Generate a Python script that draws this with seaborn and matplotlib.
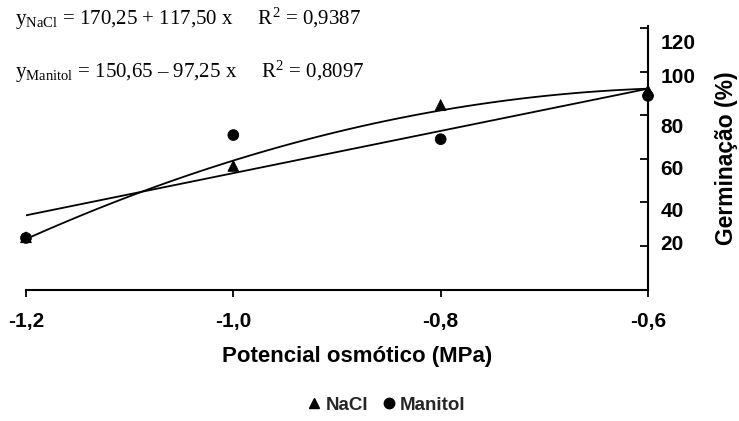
import numpy as np
import pandas as pd
import matplotlib
matplotlib.use("Agg")
import matplotlib.pyplot as plt
import seaborn as sns
from matplotlib.lines import Line2D

# ---- data ----
potencial = [-1.2, -1.0, -0.8, -0.6]
germ_nacl = [24.0, 56.8, 84.8, 91.5]
germ_manitol = [23.7, 71.0, 69.1, 89.0]
series = ["NaCl", "Manitol"]

x_ticks = [-1.2, -1.0, -0.8, -0.6]
x_labels = ["-1,2", "-1,0", "-0,8", "-0,6"]
y_ticks = [20, 40, 60, 80, 100, 120]
y_labels = ["20", "40", "60", "80", "100", "120"]
y_label_pos = [21.8, 37.0, 56.3, 75.3, 98.6, 113.8]

eq_nacl = r"$\mathrm{y_{NaCl}}$ = 170,25 + 117,50 x     R$^{2}$ = 0,9387"
eq_manitol = r"$\mathrm{y_{Manitol}}$ = 150,65 – 97,25 x     R$^{2}$ = 0,8097"

sns.set_theme(style="white")
plt.rcParams["font.family"] = ["Liberation Sans", "DejaVu Sans"]
plt.rcParams["mathtext.fontset"] = "custom"
plt.rcParams["mathtext.rm"] = "Liberation Serif"
plt.rcParams["mathtext.it"] = "Liberation Serif:italic"
plt.rcParams["mathtext.bf"] = "Liberation Serif:bold"

df = pd.DataFrame({
    "x": potencial * 2,
    "y": germ_nacl + germ_manitol,
    "trat": [series[0]] * len(potencial) + [series[1]] * len(potencial),
})

fig = plt.figure(figsize=(7.39, 4.21), dpi=100)
W, H = 739, 421
ax = fig.add_axes([26 / W, 1 - 289.5 / H, (648 - 26) / W, (289.5 - 26.3) / H])

sns.regplot(data=df[df.trat == "NaCl"], x="x", y="y", order=2, ci=None,
            scatter=False, color="black", line_kws=dict(lw=1.3), ax=ax)
sns.regplot(data=df[df.trat == "Manitol"], x="x", y="y", order=1, ci=None,
            scatter=False, color="black", line_kws=dict(lw=1.3), ax=ax)
sns.scatterplot(data=df, x="x", y="y", style="trat",
                markers={"NaCl": "^", "Manitol": "o"}, color="black",
                edgecolor="black", s=60, legend=False, ax=ax,
                clip_on=False, zorder=4)

ax.set_xlim(-1.2, -0.6)
ax.set_ylim(0, 121)

for s in ["top", "left"]:
    ax.spines[s].set_visible(False)
for s in ["bottom", "right"]:
    ax.spines[s].set_color("black")
    ax.spines[s].set_linewidth(1.5)

ax.set_xticks(x_ticks)
ax.set_xticklabels(x_labels, fontsize=15, fontweight="bold")
ax.tick_params(axis="x", direction="out", length=5, width=1.3, pad=11,
               bottom=True, colors="black")

ax.yaxis.tick_right()
ax.set_yticks(y_ticks)
ax.set_yticklabels([])
ax.set_yticks(y_label_pos, minor=True)
ax.set_yticklabels(y_labels, minor=True, fontsize=15, fontweight="bold")
ax.tick_params(axis="y", which="major", direction="in", length=6, width=1.3,
               left=False, right=True, labelright=False, colors="black")
ax.tick_params(axis="y", which="minor", length=0, left=False, right=True,
               labelright=True, pad=9, labelcolor="black")

ax.set_ylabel("")
ax.set_xlabel("Potencial osmótico (MPa)", fontsize=16, fontweight="bold",
              color="black")
ax.xaxis.set_label_coords((357.5 - 26) / 622, (289.5 - 346) / 263.2)

fig.text(727 / W, 1 - 158 / H, "Germinação (%)", rotation=90, ha="center",
         va="center", fontsize=16.5, fontweight="bold", color="black")

fig.text(15 / W, 1 - 25 / H, eq_nacl, family="Liberation Serif",
         fontsize=15, va="baseline", ha="left", color="black")
fig.text(15 / W, 1 - 78 / H, eq_manitol, family="Liberation Serif",
         fontsize=15, va="baseline", ha="left", color="black")

handles = [Line2D([], [], ls="none", marker="^", color="black", markersize=7.5),
           Line2D([], [], ls="none", marker="o", color="black", markersize=7.5)]
fig.legend(handles, series, loc="center", bbox_to_anchor=(387 / W, 1 - 405 / H),
           ncol=2, frameon=False, prop=dict(weight="bold", size=13.5),
           handlelength=0.6, handletextpad=0.3, columnspacing=0.8)

fig.savefig("out.png", dpi=100, facecolor="white")
